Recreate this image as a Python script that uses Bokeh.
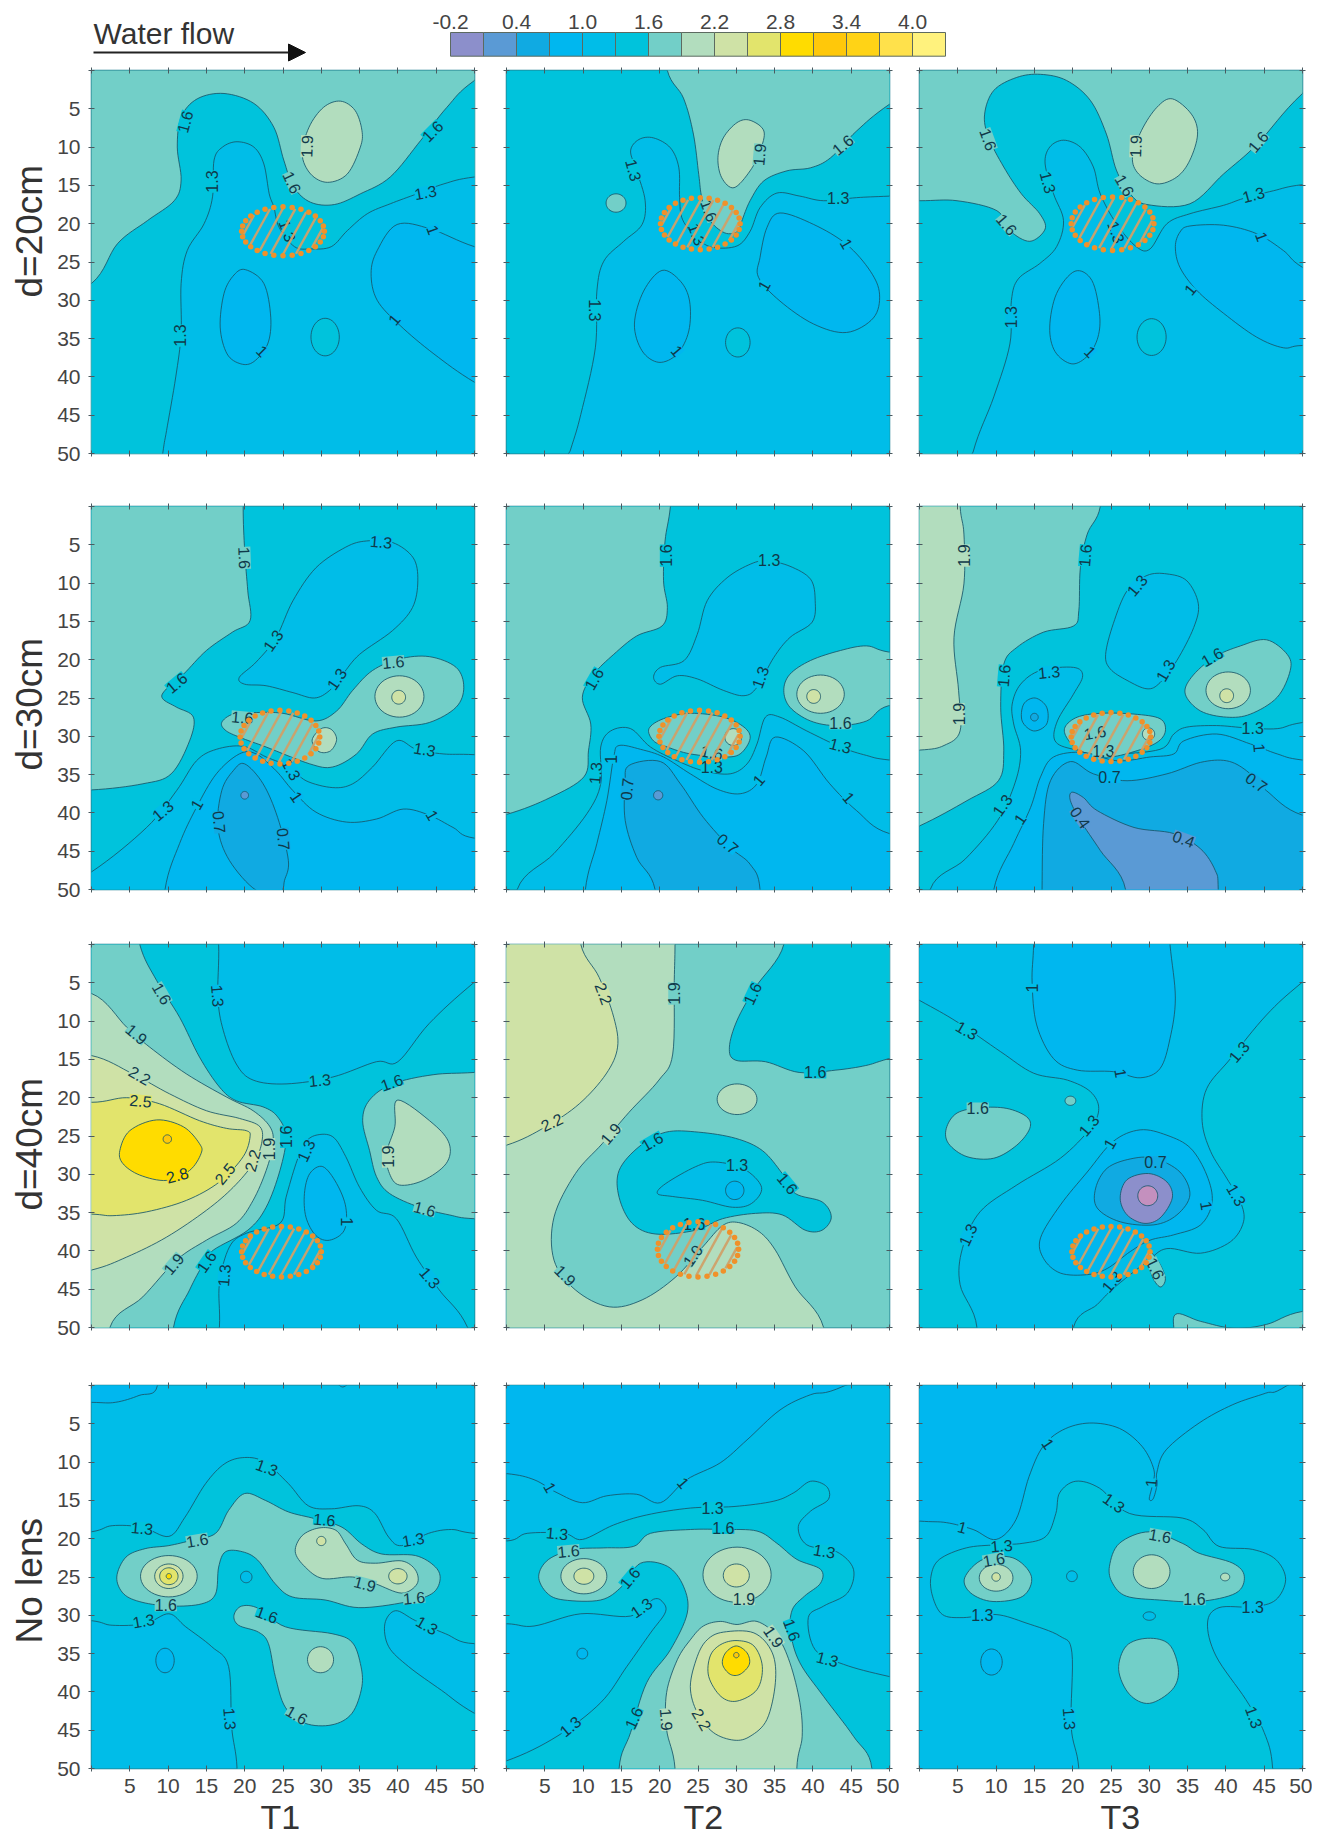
import numpy as np
from bokeh.embed import file_html
from bokeh.resources import INLINE
from bokeh.plotting import figure
from bokeh.layouts import column, row
from bokeh.models import ColumnDataSource, FixedTicker, LinearAxis, Range1d, Label, Arrow, NormalHead, Title
from bokeh.core.properties import value

# ---- colour scale (15 classes of 0.3 from -0.2) ----
SCALE_EDGES = [-0.2, 0.1, 0.4, 0.7, 1.0, 1.3, 1.6, 1.9, 2.2, 2.5, 2.8, 3.1, 3.4, 3.7, 4.0, 4.3]
SCALE_COLORS = ["#8C8FCB", "#5A9AD5", "#10AAE2", "#00B7EF", "#00BDE8", "#00C3DC", "#72CFC8", "#B2DDBE",
                "#CFE2A6", "#E2E46C", "#FFDC00", "#FFC80A", "#FFD316", "#FFE14B", "#FFF27D", "#C490BE"]
SCALE_LABELS = ["-0.2", "0.4", "1.0", "1.6", "2.2", "2.8", "3.4", "4.0"]
SCALE_LABEL_VALUES = [-0.2, 0.4, 1.0, 1.6, 2.2, 2.8, 3.4, 4.0]
ROW_NAMES = ["d=20cm", "d=30cm", "d=40cm", "No lens"]
COL_NAMES = ["T1", "T2", "T3"]

# ---- contour regions: (class index, outline of (column, depth)) or (class, (cx, cy, rx, ry)) ----
D20_T1 = [
 (6, (25, 25, 80, 80)),
 (5, [(0,27.8),(3.4,22.6),(7.3,19.6),(10.8,17),(11.7,14.3),(11.2,10),(11.7,6.1),(13.8,3.7),(17.3,3),(21.2,4.3),(23.8,7.4),(25.1,11.7),(26.4,15.2),(28.6,17.2),(31.7,17.5),(35.1,16.1),(39,13.9),(43,9.1),(46.4,4.8),(50,1.3),(60,-5),(60,60),(-8,60),(-8,32)]),
 (4, [(9.3,50),(9.8,47),(11,40),(11.7,34.3),(11.7,27.8),(12.5,23.5),(14.7,20),(15.8,16.5),(16,11.7),(17.1,10),(19,9.3),(21.2,10),(22.5,12.2),(23.2,16.1),(23.8,17.8),(24.5,20.5),(26.5,23),(28.6,23.3),(31.3,23),(33.4,20.9),(36,18.7),(39,17.4),(42.5,16.1),(46,14.8),(50,13.9),(60,13),(60,60),(8,60)]),
 (3, [(20.1,26),(22.5,27.8),(23.4,32.2),(23,35.7),(21.2,38),(19.5,38.3),(17.7,37),(16.8,33.5),(17.3,29.1),(18.6,26.7)]),
 (3, [(39.9,20.1),(44.3,20.7),(50,23),(58,25),(58,45),(50,40.7),(44.7,37),(40.3,33.3),(37.3,30),(36.5,26.5),(37.3,23.5)]),
 (5, (30.5, 34.8, 1.85, 2.45)),
 (7, [(32.5,4),(34.4,5.2),(35.3,7.8),(35.1,10),(33.4,13.5),(30.8,14.6),(28.6,13.5),(27.5,10.9),(28.4,7.4),(30.3,4.8)]),
]
D20_T2 = [
 (5, (25, 25, 80, 80)),
 (6, [(21,0),(23.1,3.6),(24.4,8.3),(25.1,13.6),(25.5,16.6),(26.5,19.5),(28.5,21.2),(30.2,21),(30.7,19.7),(31.8,17),(33.6,14.4),(36.6,13.1),(39.7,12.7),(42.3,11.4),(45.7,7.9),(50,4.4),(60,-2),(60,-8),(20,-8)]),
 (4, [(8.3,49.7),(9.7,44.9),(11.6,36.2),(11.8,28.8),(12.7,24.9),(15.3,22.3),(17.7,20.1),(18.1,17),(17,13.1),(16.2,10.5),(17.3,9),(19.2,8.8),(21.4,10.1),(22.5,12.7),(22.6,16.6),(23,19.5),(25,22),(27,23.1),(30.1,22.9),(31.8,21),(33.1,17.9),(35.3,16),(38.3,16.4),(41.4,17),(45.7,16.6),(50,16.4),(60,16),(60,60),(5,60)]),
 (6, (14.3, 17.3, 1.3, 1.2)),
 (7, [(31.8,6.5),(33.6,7.9),(33.1,10.5),(31.8,13.1),(29.7,15.3),(28.1,14),(27.6,11.4),(28.3,8.8),(30.1,6.8)]),
 (3, [(20.3,26.1),(22.7,27.5),(23.9,30.1),(23.8,34),(22.3,37),(19.9,38.1),(17.7,36.6),(16.7,33.1),(17.9,28.8)]),
 (3, [(35.7,18.6),(40.1,20.1),(44.4,22.7),(47.5,26.2),(48.7,29.2),(47.9,32.3),(44.4,34.2),(40.1,33.1),(35.7,30.1),(32.9,27),(33.1,24.4),(34,20.5)]),
 (5, (30.2, 35.5, 1.6, 1.9)),
]
D20_T3 = [
 (6, (25, 25, 80, 80)),
 (5, [(0,17),(4.9,17),(10.1,18.3),(11.8,20.9),(14.4,22.3),(16.4,20.7),(15.7,18.7),(13.3,16.1),(11,12.6),(9,8.7),(8.5,5.7),(9.7,2.6),(12.7,0.9),(15.8,0.5),(19.2,1.3),(22.3,3.9),(24.4,8.3),(25.7,13),(27.5,16.1),(29.7,17.5),(35.3,17.4),(39.7,13.5),(44.1,9.6),(50,3),(60,-5),(60,60),(-8,60),(-8,17)]),
 (4, [(7,49.8),(9.7,42.6),(11.8,35.7),(12,30),(12.9,27.2),(15.7,25.2),(17.9,23),(18.8,19.6),(17.5,16.1),(16.4,12.2),(17,10),(18.8,9.1),(21,10),(22.7,12.6),(23.6,16.1),(25.7,20),(28.3,23),(30.1,23.3),(32.3,20),(35.3,18.7),(39.7,17.6),(42.3,16.7),(46.2,15.7),(50,14.9),(60,14),(60,60),(5,60)]),
 (3, [(20.3,26.2),(22.5,27.4),(23.5,31.7),(23.3,34.8),(22,37.2),(19.9,38.3),(17.7,36.7),(17,33.5),(17.9,29.1)]),
 (3, [(35.3,20.3),(39.7,20.2),(44,21.3),(47.5,23.5),(50,25.7),(58,30),(58,36),(50,35.9),(47.5,36.2),(44,34.8),(39.7,31.7),(36.2,28.7),(34,25.7),(33.4,23),(34,21.1)]),
 (5, (30.3, 34.8, 1.9, 2.4)),
 (7, [(33,3.7),(35.5,5.7),(36.3,8.3),(35.3,11.7),(33.6,13.9),(31,14.8),(28.6,13.5),(27.8,11.3),(29,7.8),(31,4.8)]),
]
D30_T1 = [
 (5, (25, 25, 80, 80)),
 (6, [(19.8,0),(20,5.8),(20.4,11),(20.7,14.9),(18.4,16.4),(15,18.8),(12,21.9),(9.6,24),(9.3,25.1),(11.1,26.2),(13.3,27.5),(12.8,30.6),(10.4,34.9),(6.7,36.2),(0,37),(-8,37),(-8,-8),(20,-8)]),
 (4, [(35.9,4.5),(39.3,4.7),(42,6.7),(42.6,9.7),(41.9,13.2),(39.3,16.2),(35,19.3),(32.8,21.9),(31.1,24),(29.1,25),(26.3,24.3),(22.8,23.4),(20,23.2),(19.3,22.3),(21.5,20.3),(24.1,17.1),(26.3,12.3),(29.3,8),(33.2,5.3)]),
 (4, [(0,47.7),(7.2,41.9),(11.1,37.1),(13.7,33.2),(16.3,31.7),(19.8,31.3),(22.8,32.7),(25.9,34),(28,35.8),(31.5,36.7),(34.1,36.2),(36.7,34),(39.8,30.6),(42.4,31.7),(45.9,32.3),(50,32.4),(60,33),(60,60),(-8,60),(-8,52)]),
 (6, [(17,28.2),(18.5,27.1),(21.5,26.9),(25,27),(29.3,28),(32,26.7),(34.1,24),(36.7,21.4),(40.2,19.9),(44.1,19.6),(47.6,21),(48.6,23.6),(47.6,26.2),(44.1,28.2),(39.8,28.8),(36.7,29.7),(34.6,32.3),(31.5,34),(28.5,33.6),(22.8,31.4),(19.8,30.3),(17.6,29.3)]),
 (3, [(9.6,50),(11.5,44),(13.7,39.3),(16.3,34.9),(19.3,32.3),(21.5,32.3),(24.1,34.5),(26.3,37.1),(29.3,39.9),(33.3,41.2),(37.2,40.8),(40.7,39.5),(44.1,40.3),(47.2,41.9),(50,43.3),(60,44),(60,60),(9,60)]),
 (2, [(20,33.6),(22.4,36.2),(24.3,40.6),(25.7,46.2),(25.2,48.8),(24.6,50.3),(21.5,50.1),(18,46.2),(16.5,41.9),(17,37.1),(18.5,34.5)]),
 (1, (20, 37.7, 0.5, 0.5)),
 (7, (40.2, 24.8, 3.2, 2.7)),
 (8, (40.1, 24.9, 0.9, 0.9)),
 (7, [(30,29),(31.3,29.1),(32,30.4),(31.2,31.9),(29.7,32),(28.8,30.5)]),
]
D30_T2 = [
 (5, (25, 25, 80, 80)),
 (6, [(21.4,0),(20.7,4.5),(20.5,9.7),(21,13.2),(20.3,15.6),(17,16.9),(14,19.3),(11.4,21.9),(9.9,24.9),(11,28.4),(10.7,31.9),(10.1,35.3),(5.7,38),(0,40.2),(-8,42),(-8,-8),(22,-8)]),
 (4, [(34,7.1),(37,7.8),(39.7,9.5),(40.3,12.3),(39.9,15.1),(37,17.1),(34.9,19.7),(32.7,23.6),(31,24.7),(28.3,24),(24.9,22.5),(22.3,22.1),(20.1,23.2),(19.2,22.3),(20.1,21),(23.2,20.1),(24.9,16.7),(26.2,12.3),(28.8,9.3),(31.9,7.5)]),
 (6, [(49.9,19),(47,18.2),(43.6,18.8),(39.7,20.1),(37,21.9),(36.2,24),(37,26.2),(39.7,28),(43.1,28.6),(47,28),(49.9,26),(58,25),(58,20)]),
 (7, (41, 24.5, 3.1, 2.5)),
 (8, (40.1, 24.8, 0.9, 0.9)),
 (4, [(1.4,50),(6.2,45.3),(10.5,40.1),(12.3,36.2),(12.3,31.4),(13.6,29.3),(16.2,29),(18.8,31.4),(22.3,33.2),(25.7,34.5),(29.2,34.9),(31.4,33.6),(32.7,31),(33.8,27.5),(35.7,27.5),(39.2,29.3),(43.6,31.4),(47,32.5),(50,33.1),(60,34),(60,60),(1,60)]),
 (6, [(18.6,29),(20.5,27.7),(24,27),(28.3,27.5),(31,28.8),(31.8,30.3),(30.5,32.3),(28.3,32.7),(24,32.3),(21,31.4),(19.2,30.6)]),
 (7, (29.6, 30.1, 1.1, 1.1)),
 (3, [(10.3,50),(11.8,44),(13.1,38.4),(14,32.7),(14.7,31.2),(17.5,31.7),(20.5,32.7),(24,34.9),(27.5,36.9),(30.5,37.5),(32.7,36.2),(33.9,32.7),(35.1,30.1),(38.8,31.9),(42.2,36.2),(45.7,39.7),(50,42.7),(60,44),(60,60),(10,60)]),
 (2, [(19.4,50),(17,45.8),(15.5,41),(15.5,36.2),(16,33.8),(20.1,33.3),(22.7,36.2),(25.7,40.6),(29.2,44.5),(31.8,46.7),(33.1,50),(33,60),(20,60)]),
 (1, (19.8, 37.7, 0.6, 0.6)),
]
D30_T3 = [
 (5, (25, 25, 80, 80)),
 (6, [(23.6,0),(21.9,3.6),(21,8),(20.8,13.6),(20.1,15.6),(16.2,16.4),(12.7,18.4),(11,20.6),(10.6,26.2),(11,31.9),(10.3,35.8),(6.2,38.4),(0,41.7),(-8,45),(-8,-8),(24,-8)]),
 (7, [(5.3,0),(5.8,3.6),(5.8,10.1),(4.5,17.1),(5.1,24),(5.3,29.3),(3.2,31.2),(0,31.8),(-8,32),(-8,-8),(5,-8)]),
 (4, [(32.3,8.8),(34.9,9.7),(36.4,12.7),(35.8,15.8),(33.6,20.1),(31.4,23),(29.7,23.8),(27.1,22.7),(24.9,21.2),(24.3,19.3),(25.3,15.3),(27.1,11),(29.7,9)]),
 (4, [(1.4,50),(6,46),(10.2,41),(12.5,36),(13.2,31.9),(12.3,28.4),(12.1,25.8),(13.2,23.2),(15.8,21.4),(20.1,21),(21.3,22.1),(20.1,24.5),(18,28),(17.7,30.6),(20.1,31.7),(25,32.3),(31.4,31.7),(33.2,29.7),(34.9,28.8),(38.8,28.6),(42.7,28.9),(46.7,29),(50,28.2),(60,27),(60,60),(1,60)]),
 (6, [(19,28.8),(20.6,27.5),(23.6,27),(28,27.1),(31.4,27.7),(32.1,29.3),(31,30.8),(28,32),(24.5,32.7),(21,31.9),(19.3,30.3)]),
 (7, (29.9, 29.7, 0.8, 0.8)),
 (3, [(9.7,50),(12.3,44),(14.5,39.3),(15.8,35.3),(17.5,32.7),(21.4,32.1),(25.8,33.2),(30.1,32.7),(33.2,32.3),(34.5,30.6),(38.8,29.7),(43.2,31),(46.7,32.3),(50,33.1),(60,34),(60,60),(9,60)]),
 (2, [(16,50),(16.2,41.4),(17.1,35.8),(19.7,33.3),(22.7,34.9),(27.1,35.8),(32.3,34.9),(36.7,33.4),(40.1,33.2),(42.7,34.5),(45.3,37.1),(50,40.3),(60,42),(60,60),(16,60)]),
 (1, [(19.9,37.3),(21.4,38),(23.2,39.7),(28,41.9),(33.2,42.7),(36.7,44.7),(38.6,47.5),(39,50),(39,60),(26.5,60),(26.9,50),(23.6,44.9),(21,41),(19.7,38.4)]),
 (3, [(15.1,25),(16.6,26.2),(16.6,28.4),(14.9,29.3),(13.4,28),(13.6,25.8)]),
 (2, (15, 27.5, 0.5, 0.5)),
 (6, [(45.3,17.4),(48,19.3),(48.4,21.4),(46.7,24.9),(43.2,27.1),(40.1,27.5),(36.7,26.7),(34.7,24.5),(35.5,22.3),(38.4,19.7),(41.9,18.2)]),
 (7, (40.3, 24, 2.9, 2.4)),
 (8, (40.1, 24.7, 0.9, 0.9)),
]
D40_T1 = [
 (5, (25, 25, 80, 80)),
 (6, [(6.3,0),(8.5,4.7),(11.5,9.5),(14.1,14.7),(16.7,18.6),(18.9,20.4),(22.4,21.2),(24.3,22.5),(25.4,25.1),(24.6,29.5),(22.8,34.3),(20.4,37.3),(15.9,39.9),(14.6,41.7),(12.8,45.1),(10.7,50),(10,60),(-8,60),(-8,-8),(5,-8)]),
 (7, [(0,6.4),(4.6,10.8),(7.6,13.4),(12.4,16.9),(17.6,19.9),(21.1,21.7),(23.3,23.8),(23.7,26),(22.8,29.5),(21.1,33.4),(18.9,36.4),(15,38.6),(11.1,41.2),(6.7,46),(2.4,50),(2,60),(-8,60),(-8,6)]),
 (8, [(0,14.5),(5.4,16.9),(10.2,19.5),(15,21.7),(19.3,22.7),(22,23.8),(22.2,26),(21.1,28.6),(18.5,31.7),(15,34.7),(9.8,38.2),(4.6,40.8),(0,42.5),(-8,44),(-8,14)]),
 (9, [(0,20.6),(4.6,20),(8.9,20.8),(14.1,23),(17.6,24),(20.2,24.3),(20.7,25.1),(19.8,27.7),(16.7,31),(12.4,33.4),(7.2,34.9),(2.8,35.4),(0,35.2),(-8,35),(-8,20)]),
 (10, [(8.5,22.9),(12,23.8),(14.1,26),(14.3,27.3),(12.8,29.5),(9.8,30.8),(6.3,30.1),(4.1,28.6),(3.7,26.9),(5,24.3)]),
 (11, (9.9, 25.4, 0.55, 0.55)),
 (4, [(16.6,0),(16.5,6.9),(17.2,11.2),(18.9,15.6),(21.1,17.7),(25.4,18.2),(31.5,17.3),(37.2,15.3),(40,15.3),(44.1,10.3),(50,4.9),(60,-3),(60,-8),(16,-8)]),
 (6, [(50,16.7),(44.6,17),(39.3,18.2),(36.3,20.3),(35.4,23),(36.3,26.9),(37.2,30.3),(38.9,32.5),(42.8,34.3),(46.7,35.3),(50,35.8),(60,36),(60,16)]),
 (7, [(40,20.3),(44.6,23.4),(46.7,26),(46.3,28.6),(43.3,30.8),(40.2,31.4),(38.9,29.9),(38.5,27.3),(39.6,23.8)]),
 (4, [(16.7,50),(16.7,44.3),(18,39.5),(20.2,37.7),(24.6,36.4),(25.4,33),(26.7,28.6),(27.8,26),(29.3,24.9),(31.5,25.1),(33.2,27.7),(35,31.7),(37.2,34.7),(39.8,35.8),(42.4,40.8),(45.4,45.1),(49.1,50),(52,60),(16,60)]),
 (3, [(30.2,29),(32,31.2),(33.2,34.3),(33,37.3),(31.1,38.6),(29.3,38),(28,35.6),(27.8,32.5),(28.5,29.9)]),
]
D40_T2 = [
 (6, (25, 25, 80, 80)),
 (7, [(22,0),(21.9,4.7),(21.7,14.3),(19.9,17.7),(16,21.9),(12.5,26),(9,29.9),(6.2,35.6),(6.2,41.2),(9,45.1),(13.4,47.3),(17.7,46.4),(22.1,43.4),(25.6,39.5),(28.2,36.7),(30.3,36.3),(33,37.5),(35.1,39.9),(37.7,44.7),(41.4,50),(42,60),(-8,60),(-8,-8),(22,-8)]),
 (8, [(9.7,0),(12.1,4.3),(14,9.5),(14.5,13.4),(13,16.9),(9.5,20.8),(5.1,23.8),(0,26.2),(-8,28),(-8,-8),(9,-8)]),
 (7, (30.1, 20.2, 2.6, 2)),
 (5, [(36.2,0),(32.5,5.6),(30.1,9.9),(29.1,13.4),(29.9,15.1),(33.8,15.3),(38.2,16.7),(43,16.4),(46.9,15.8),(49.9,14.9),(60,12),(60,-8),(36,-8)]),
 (5, [(14.7,33),(14.7,29.5),(17.3,26.4),(20.8,24.5),(25.1,24.5),(29.9,25.3),(33.4,26.9),(36,29.9),(37.7,32.5),(41.2,33.6),(42.4,35.6),(41.2,37.3),(39,37.3),(36,35.3),(32.5,35.1),(28.2,35.8),(24.7,37.3),(19.5,37.8),(16.4,36.4)]),
 (4, [(19.7,32.5),(20.8,31.2),(24.7,29),(27.3,28.4),(31,29.3),(33.3,31.7),(32,33.8),(29.5,34.3),(25.6,33.4),(21.7,32.9)]),
 (3, (29.8, 32.1, 1.2, 1.2)),
]
D40_T3 = [
 (5, (25, 25, 80, 80)),
 (4, [(0,7.3),(4.9,10.1),(10.6,14),(14.9,16.8),(19.3,17.7),(22.3,19.2),(23.4,21.4),(22.3,24),(18.4,27.9),(12.7,31.4),(7.9,34.9),(5.6,39.7),(5.3,44.4),(7.5,50),(7,60),(20,60),(20.1,50),(23.2,47),(25.3,44.9),(29.7,41.4),(32.3,39.7),(36.7,40.3),(40.6,38.8),(42.3,36.2),(41.9,33.6),(40.1,30.5),(38,27),(36.9,23.1),(37.5,18.8),(40.6,14.9),(45.3,9.2),(50,4.9),(60,-3),(60,-8),(-8,-8),(-8,3)]),
 (3, [(14.9,0),(14.7,4.9),(15.3,10.5),(17.5,14.9),(20.6,16.4),(25.3,16.6),(28.8,17.4),(31.4,16.2),(32.7,12.3),(33.4,7),(32.7,0),(32,-8),(15,-8)]),
 (3, [(28.8,24.2),(32.3,24.9),(35.4,26.6),(37.5,30.1),(38.2,33.6),(36.7,36.6),(33.2,37.9),(30.1,38.6),(27.5,40.1),(24.5,42.3),(21.9,43.1),(18.4,42.9),(16.2,41),(15.8,38.3),(18.4,34),(21.9,29.7),(25.3,25.7)]),
 (2, [(27.5,28),(30.6,27.9),(34,29.7),(35.3,32.7),(33.6,35.3),(30.6,36.6),(26.2,36.2),(23.2,34.4),(23,31.8),(24.5,29.2)]),
 (0, [(29.9,29.9),(32.3,31),(33,33.1),(31.4,35.7),(29.3,36.4),(27.1,35.3),(26.2,33.1),(27.1,30.7)]),
 (15, (29.8, 32.8, 1.3, 1.3)),
 (6, [(8,21.3),(11.4,21.4),(14,22.5),(14.4,24),(12.7,26.2),(9.7,27.9),(6.2,27.7),(3.8,26),(3.5,24),(4.9,22)]),
 (6, (19.7, 20.4, 0.7, 0.6)),
 (6, [(29.9,40.1),(31.2,41.4),(32.1,43.6),(31.4,44.7),(30.3,43.1)]),
 (6, [(33.4,48.3),(36.7,49.2),(41,50.1),(45.3,49.6),(50,47.9),(60,47),(60,60),(33,60),(33.3,52)]),
]
N_T1 = [
 (4, (25, 25, 80, 80)),
 (3, [(0,2.2),(3.1,2.2),(6.2,1.3),(8.6,0),(8,-8),(-8,-8),(-8,2)]),
 (3, [(31.7,-1),(32.8,0.2),(34,-1)]),
 (5, [(0,19.1),(2.7,18.3),(6.6,18.5),(10.1,19.7),(12.2,17.2),(14.9,12.8),(17.4,10.2),(20,9.4),(22.6,10),(25.7,12.8),(28.3,15.7),(31.3,16.1),(34.9,15.7),(37,16.7),(38.8,19.8),(40.5,20.9),(44,19.3),(47,18.8),(50,19.3),(60,20),(60,33),(50,33.7),(46.2,32.4),(42.3,30.7),(39.7,29.4),(38.3,31.1),(38.8,34.1),(41.4,36.7),(45.7,39.8),(50,42.8),(60,48),(60,60),(19,60),(19,50),(18.3,44.6),(17.9,36.7),(15.7,34.1),(12.3,31.5),(10.1,29.8),(7,31.1),(2.7,31.3),(0,30.7),(-8,30),(-8,20)]),
 (6, [(3.3,25),(4.5,22.4),(7,21.3),(10.1,20.9),(13.1,20.2),(16.2,19.3),(17.9,16.3),(20,14.1),(22.7,15),(25.7,16.5),(29.2,17.4),(32.7,18.5),(35.3,20.7),(37.9,22),(42.3,22.2),(44.9,23.7),(45.5,25.4),(44.4,27.2),(40.9,28.3),(34.9,29),(30.5,28),(26.2,27.6),(24,25.9),(21.7,22.8),(19.7,21.7),(17.5,21.7),(16.6,23.7),(16.2,27.2),(14.4,28.5),(10.5,28.8),(6.6,28.3),(4.2,27.2)]),
 (7, (10.1, 24.9, 3.7, 2.7)),
 (8, (10.1, 24.9, 1.85, 1.6)),
 (9, (10.1, 24.9, 1.2, 1.1)),
 (10, (10.1, 24.9, 0.35, 0.35)),
 (7, [(29.7,18.6),(31.9,18.9),(33.2,20.7),(34.7,22.8),(37.1,23.2),(40.5,22.9),(42.3,24.1),(42.5,25.9),(40.5,27.1),(37.1,25.9),(34.1,25),(30.2,25.2),(27.9,23.7),(26.6,21.7),(27.5,19.6)]),
 (8, (30, 20.3, 0.6, 0.6)),
 (8, (40, 24.9, 1.2, 1)),
 (6, [(19.6,28.8),(21.8,29.1),(25.3,31.5),(31.4,32.4),(34,33.5),(35.1,36.3),(35.3,39.3),(34,42.8),(31.4,44.3),(27.9,44.1),(25.3,42),(24,38),(23.1,33.7),(21.8,32.2),(19.2,31.3),(18.6,30)]),
 (7, (29.9, 35.8, 1.7, 1.7)),
 (4, (20.2, 25, 0.75, 0.75)),
 (3, (9.6, 35.9, 1.2, 1.6)),
]
N_T2 = [
 (4, (25, 25, 80, 80)),
 (3, [(0,11.5),(3.6,12.3),(6.6,14),(9.9,15.3),(13.1,14.4),(17,14.2),(20.1,15.3),(23.5,12.3),(27.9,10.1),(31.4,7.1),(35.7,3.2),(39.7,1.2),(44.2,0),(60,-8),(-8,-8),(-8,11)]),
 (5, [(0,20.3),(2.7,19.3),(7.5,19.3),(9.9,20.1),(14,18.2),(18.3,16.9),(24,16),(29.7,15.8),(34.9,15.1),(37.5,14),(39.7,12.5),(41.8,13.2),(42,14.9),(39.7,16.4),(38.1,18.4),(39.2,20.8),(43.1,21.7),(45.3,24),(44.5,27.1),(41.4,28.8),(39.4,30.3),(40.3,34.5),(44,36.4),(50,38),(60,40),(60,60),(-8,60),(-8,51),(0,49),(6.6,45.8),(12.3,41.4),(15.7,36.7),(18.8,32.3),(20.7,29.7),(20.5,28.4),(19.2,27.9),(16.2,30.1),(9.7,29.8),(3.6,31.4),(0,31.1),(-8,31),(-8,20)]),
 (6, [(4.2,24.9),(5.5,22.7),(8.9,21.4),(12.7,21.2),(16.6,21),(18.8,19.3),(24,18.8),(28.3,18.8),(32.7,19),(35.3,20.6),(37.9,22.7),(41,24),(41,25.8),(38.9,27.5),(37.3,29.3),(37.1,32.3),(38.3,36.2),(41.4,40.6),(45.3,45.8),(47.7,50),(47,60),(15,60),(14.7,50),(16.2,45.3),(18.3,38.8),(21.4,34.5),(23.6,29.7),(23.1,26.2),(21,23.6),(17.5,23.2),(15.1,26.2),(12.3,28),(7.5,28),(5.3,27.1)]),
 (7, (10.1, 24.9, 3, 2.3)),
 (8, (10.1, 24.9, 1.3, 1.05)),
 (7, (30.1, 24.7, 4.45, 3.6)),
 (8, (30, 24.8, 1.7, 1.5)),
 (7, [(25.7,31.4),(27.9,30.8),(30.1,31.2),(32.7,30.8),(35.3,32.7),(37,36.2),(38.3,41.4),(38.6,45.8),(37.9,50),(38,60),(22,60),(22,50),(20.9,44.9),(20.9,40.1),(22.3,35.8),(24,33.2)]),
 (8, [(28.3,32.2),(32.3,32.3),(34.7,34.9),(35.1,38.8),(34,43.6),(31.8,45.8),(29.7,46.3),(27,45.3),(24.9,42.7),(24,39.3),(24.9,35.4),(26.2,33.2)]),
 (9, [(30.1,33.3),(32.3,34),(33.4,36.7),(32.7,39.7),(30.1,41.2),(28,40.6),(26.4,38),(26.6,35.3),(28,33.8)]),
 (10, [(30,34),(31.4,34.9),(31.7,36.4),(30.5,37.7),(29.2,37.7),(28.2,36.4),(28.6,34.9)]),
 (11, (30, 35.2, 0.35, 0.35)),
 (3, (9.9, 35, 0.7, 0.7)),
]
N_T3 = [
 (4, (25, 25, 80, 80)),
 (3, [(0,17.7),(3.5,17.9),(7,18.8),(10,20.1),(12.6,17.5),(14.3,11.9),(16.1,8),(18.7,5.8),(22.2,4.9),(26.1,5.6),(29.1,8),(30.6,11),(30.4,13),(30,14.8),(30.5,14.8),(31,13),(31,11.3),(32.2,8.4),(36.5,4.9),(40.9,2.5),(45.2,1),(48,0),(60,-8),(-8,-8),(-8,17)]),
 (5, [(1.5,24.9),(2.6,22.7),(6.1,21.2),(10,20.8),(13.5,20.6),(16.5,19.7),(17.8,16.7),(18.3,14),(20.4,12.5),(23.5,13.4),(27.4,16.7),(34.3,17.3),(37,18.8),(39.1,21),(43.5,21.4),(46.5,22.7),(47.8,25.3),(46.5,28),(43.5,28.9),(39.1,29),(37.6,31),(38.7,35.3),(42.6,41),(45,45.3),(46.1,50),(46,60),(21,60),(20.8,50),(19.8,44.5),(19.9,34.9),(18.3,32.7),(13.9,31),(10,29.9),(5.7,30.3),(3,29.9),(1.7,27.5)]),
 (6, [(5.9,25.1),(8.3,22.7),(12.2,22.5),(14.6,24.9),(13.5,27.5),(9.6,28.2),(6.7,27.1)]),
 (7, (10, 25.1, 2.2, 1.75)),
 (8, (10, 25, 0.55, 0.55)),
 (6, [(24.8,23.6),(26.1,20.6),(30,19.1),(34.3,20.6),(36.5,21.9),(40.9,23.2),(42.4,24.9),(41.3,27.1),(36.5,28.2),(31.3,28),(27,27.5),(25.2,25.8)]),
 (7, (30.3, 24.3, 2.4, 2.2)),
 (7, (39.9, 25, 0.6, 0.5)),
 (6, [(29.8,33),(32.6,33.8),(33.8,37.1),(33,39.7),(30,41.5),(27.4,40.3),(26,37.1),(27,34)]),
 (4, (19.9, 24.9, 0.7, 0.7)),
 (4, (30, 30.1, 0.8, 0.55)),
 (3, (9.4, 36.1, 1.4, 1.7)),
]

# ---- isoline labels: (text, column, depth, angle in degrees) ----
T_D20_T1 = [("1.6",12.2,6.7,75),("1.9",28.1,9.9,88),("1.3",15.7,14.5,90),("1.6",26.2,14.6,-65),("1.6",44.5,7.9,45),("1.3",43.6,15.9,10),("1",44.6,20.8,-70),("1",39.5,32.5,50),("1.3",11.6,34.6,90),("1",22.3,36.6,-45),("1.3",25.6,20.9,-70)]
T_D20_T2 = [("1.3",16.6,13,-75),("1.9",33,11,85),("1.6",43.9,9.7,40),("1.3",43.3,16.7,0),("1",44.4,22.6,-60),("1",33.6,28.1,60),("1.3",11.6,31.3,-90),("1",22.3,36.6,-50),("1.6",26.5,18.3,-70),("1.3",24.9,21.4,-70)]
T_D20_T3 = [("1.6",9,9,-70),("1.9",28.2,9.9,88),("1.3",16.8,14.6,-75),("1.6",26.8,15,-60),("1.6",44.2,9.3,50),("1.3",43.6,16.2,15),("1.6",11.4,20.1,-50),("1",44.7,21.7,-70),("1",35.3,28.6,50),("1.3",12,32.2,90),("1",22.3,36.7,-45),("1.3",25.7,21.1,-70)]
T_D30_T1 = [("1.6",20,6.7,-88),("1.3",37.8,4.6,-5),("1.3",23.7,17.5,55),("1.3",32,22.5,55),("1.6",11.1,23,40),("1.6",39.4,20.3,5),("1.6",19.7,27.5,-5),("1.3",43.5,31.7,-10),("1.3",9.3,39.7,40),("1",13.7,38.9,60),("1",26.8,37.9,-55),("1",44.5,40.3,-60),("0.7",16.7,41.2,-85),("0.7",25.1,43.4,-85),("1.3",26.1,34.3,-60)]
T_D30_T2 = [("1.6",20.8,6.4,90),("1.3",34.3,7,0),("1.6",11.4,22.5,60),("1.3",33.1,22.3,70),("1.6",43.6,28.3,0),("1.3",43.6,31.2,-15),("1.3",11.6,34.8,85),("1",13.6,33,90),("0.7",15.7,36.9,85),("1",32.9,35.7,50),("1",44.7,38,-50),("0.7",28.9,44,-40),("1.3",26.8,34,0),("1.6",26.8,32.1,-10)]
T_D30_T3 = [("1.9",5.8,6.4,90),("1.9",5.1,27.1,90),("1.6",21.6,6.4,85),("1.6",11,22.1,85),("1.3",28.4,10.3,50),("1.3",16.9,21.6,5),("1.3",32.1,21.4,60),("1.6",38.2,19.6,30),("1.3",43.5,28.9,0),("1",44.4,31.5,-85),("0.7",24.8,35.3,0),("0.7",44,36,-35),("1.3",10.8,39,55),("1",13.1,40.8,55),("0.4",21,40.6,-55),("0.4",34.5,43.4,-20),("1.6",22.9,29.5,10),("1.3",24,31.9,0)]
T_D40_T1 = [("1.6",9.2,6.4,-60),("1.3",16.5,6.7,-85),("1.9",5.9,11.7,-40),("2.2",6.3,17.1,-30),("2.5",6.4,20.4,-5),("1.3",29.8,17.7,5),("1.6",39.2,18,20),("1.6",25.4,25.1,90),("1.9",23.2,26.7,90),("2.2",21,28.2,75),("2.5",17.4,29.9,50),("2.8",11.2,30.1,15),("1.3",28,26.9,65),("1.9",38.7,27.7,90),("1.6",43.5,34.5,-15),("1",33.3,36.2,-90),("1.9",10.7,41.7,50),("1.6",15,41.4,55),("1.3",17.3,43.2,85),("1.3",44.2,43.5,-50)]
T_D40_T2 = [("2.2",12.7,6.4,-70),("1.9",21.9,6.4,90),("1.6",32.1,6.4,65),("1.6",40.3,16.7,0),("2.2",5.9,23.2,25),("1.9",13.6,24.7,50),("1.6",19,25.7,30),("1.3",30.1,28.8,0),("1.6",36.7,31.2,-50),("1.9",7.7,43.2,-45),("1.0",24.3,40.6,55),("1.6",24.5,36.5,0)]
T_D40_T3 = [("1",14.7,5.7,90),("1.3",6.2,11.2,-30),("1.3",41.7,14,50),("1",26.3,16.8,-80),("1.6",7.6,21.4,0),("1.3",22.1,23.6,50),("1",24.8,26,60),("0.7",30.8,28.4,0),("1",37.5,34.1,-80),("1.3",41.4,32.7,-60),("1.3",6.3,37.9,65),("1.6",30.8,42.3,-65),("1.3",25.1,44,50)]
T_N_T1 = [("1.3",6.6,18.6,-5),("1.3",22.9,10.7,-20),("1.6",13.8,20.2,10),("1.6",30.4,17.5,-5),("1.3",42,20.1,10),("1.9",35.7,25.9,-15),("1.6",9.7,28.7,0),("1.6",42.1,27.7,5),("1.3",6.8,30.7,10),("1.6",22.9,29.9,-20),("1.3",43.8,31.3,-30),("1.6",26.8,43,-30),("1.3",18.1,43.5,-85)]
T_N_T2 = [("1",5.7,13.3,-60),("1",23.1,12.7,-50),("1.3",26.9,16,0),("1.6",28.3,18.6,0),("1.3",6.6,19.3,-5),("1.6",8.1,21.6,5),("1.3",41.5,21.6,-10),("1.6",16.1,25.1,50),("1.3",17.6,29,35),("1.9",31,27.9,0),("1.6",37.3,31.9,-70),("1.9",34.9,32.8,-55),("1.3",41.9,35.7,-15),("1.6",16.6,43.4,65),("1.9",20.9,43.6,-85),("2.2",25.5,43.6,-60),("1.3",8.3,44.5,40)]
T_N_T3 = [("1",16.8,7.6,-55),("1",30.2,12.7,85),("1.3",25.4,15.3,-35),("1",5.6,18.5,-15),("1.3",10.7,20.9,5),("1.6",9.7,22.7,10),("1.6",31.4,19.6,-10),("1.6",35.9,27.9,0),("1.3",43.5,28.9,0),("1.3",8.2,30,0),("1.3",19.6,43.5,-85),("1.3",43.7,43.3,-70)]

# ---- lens outlines (centre column, centre depth, half width, half height); no lens in the last row ----
LENSES = [[(25,21,5.4,3.2),(25.3,20,5.2,3.4),(25.2,20,5.4,3.5)],
          [(24.6,30.1,5.2,3.5),(25.2,30,5.3,3.4),(25,30.1,5.2,3.2)],
          [(24.8,40.1,5.2,3.3),(25,39.8,5.3,3.6),(25,40.1,5.1,3.3)],
          [None,None,None]]
REGIONS = [[D20_T1,D20_T2,D20_T3],[D30_T1,D30_T2,D30_T3],[D40_T1,D40_T2,D40_T3],[N_T1,N_T2,N_T3]]
TEXTS = [[T_D20_T1,T_D20_T2,T_D20_T3],[T_D30_T1,T_D30_T2,T_D30_T3],[T_D40_T1,T_D40_T2,T_D40_T3],[T_N_T1,T_N_T2,T_N_T3]]

FONT = "Liberation Sans"
LINE = "#17566A"
TICK = "#4A5A60"
FRAME = 383
LEFT = [91, 22, 20]
RIGHT = [10, 10, 10]
TOP = [4, 4, 4, 4]
BOTTOM = [49, 51, 54, 76]
TICKS = list(range(0, 51, 5))
ROW_LABEL_OFFSET = [156, 119, 117, 125]
COL_LABEL_OFFSET = [169, 177, 181]


def smooth(points, n=8):
    """Closed Catmull-Rom outline through the read vertices."""
    P = np.array(points, dtype=float)
    m = len(P)
    out = []
    for i in range(m):
        p0, p1, p2, p3 = P[(i-1) % m], P[i], P[(i+1) % m], P[(i+2) % m]
        for t in np.linspace(0, 1, n, endpoint=False):
            out.append(0.5*((2*p1) + (-p0+p2)*t + (2*p0-5*p1+4*p2-p3)*t*t + (-p0+3*p1-3*p2+p3)*t*t*t))
    return np.array(out)


def outline(shape):
    if isinstance(shape, tuple):
        cx, cy, rx, ry = shape
        a = np.linspace(0, 2*np.pi, 48, endpoint=False)
        return np.column_stack([cx+rx*np.cos(a), cy+ry*np.sin(a)])
    return smooth(shape)


def inside(pt, poly):
    x, y = pt
    xs, ys = poly[:, 0], poly[:, 1]
    xn, yn = np.roll(xs, -1), np.roll(ys, -1)
    with np.errstate(divide="ignore", invalid="ignore"):
        cross = ((ys > y) != (yn > y)) & (x < (xn-xs)*(y-ys)/(yn-ys)+xs)
    return bool(cross.sum() % 2)


def draw_panel(r, c):
    regions = REGIONS[r][c]
    w = LEFT[c] + FRAME + RIGHT[c]
    h = TOP[r] + FRAME + BOTTOM[r]
    p = figure(width=w, height=h, output_backend="svg", toolbar_location=None,
               x_range=Range1d(0, 50), y_range=Range1d(50, 0),
               min_border_left=LEFT[c], min_border_right=RIGHT[c],
               min_border_top=TOP[r], min_border_bottom=BOTTOM[r],
               x_axis_location="below", y_axis_location="left")
    p.grid.visible = False
    p.outline_line_color = "#1F7E8E"
    p.outline_line_width = 1.5

    polys = [outline(s) for _, s in regions]
    cols = [SCALE_COLORS[l] for l, _ in regions]
    p.patches(xs=[list(q[:, 0]) for q in polys], ys=[list(q[:, 1]) for q in polys],
              fill_color=cols, line_color=LINE, line_width=1, line_alpha=0.85)

    rows = TEXTS[r][c]
    bg = []
    for _, x, y, _a in rows:
        col = cols[0]
        for q, cc in zip(polys, cols):
            if inside((x, y), q):
                col = cc
        bg.append(col)
    src = ColumnDataSource(dict(t=[a[0] for a in rows], x=[a[1] for a in rows], y=[a[2] for a in rows],
                                a=[a[3] for a in rows], bg=bg))
    p.text("x", "y", text="t", angle="a", angle_units="deg", source=src, text_font=value(FONT),
           text_font_size="16px", text_color="#10394A", text_align="center", text_baseline="middle",
           background_fill_color="bg")

    lens = LENSES[r][c]
    if lens:
        cx, cy, rx, ry = lens
        sx, sy = [], []
        tilt = -0.55
        for k in np.arange(-4, 5):
            off = k*1.65
            A = (tilt/rx)**2 + (1/ry)**2
            B = 2*(off/rx)*(tilt/rx)
            C = (off/rx)**2 - 0.93
            D = B*B-4*A*C
            if D <= 0:
                continue
            v1, v2 = (-B-np.sqrt(D))/(2*A), (-B+np.sqrt(D))/(2*A)
            sx.append([cx+off+tilt*v1, cx+off+tilt*v2])
            sy.append([cy+v1, cy+v2])
        p.multi_line(sx, sy, line_color="#D0A068", line_width=2.4, line_alpha=0.95)
        a = np.linspace(0, 2*np.pi, 28, endpoint=False)
        p.scatter(cx+rx*np.cos(a), cy+ry*np.sin(a), size=5.5, marker="circle", fill_color="#F0912A",
                  line_color=None)

    # all four sides carry ticks; labels only on the outer left and bottom
    def style(ax, labels):
        ax.ticker = FixedTicker(ticks=TICKS)
        ax.axis_line_color = None
        ax.major_tick_line_color = TICK
        ax.major_tick_in = 3
        ax.major_tick_out = 3
        ax.minor_tick_line_color = None
        ax.major_label_overrides = {t: (str(t) if (labels and t > 0) else "") for t in TICKS}
        ax.major_label_text_font = FONT
        ax.major_label_text_font_size = "21px"
        ax.major_label_text_color = "#444444"

    left = p.left[0]
    below = p.below[0]
    style(left, c == 0)
    style(below, r == 3)
    left.major_label_standoff = 8
    below.major_label_standoff = 7
    for side in ("above", "right"):
        ax = LinearAxis()
        style(ax, False)
        p.add_layout(ax, side)
    if c == 0:
        p.add_layout(Title(text=ROW_NAMES[r], align="left", offset=ROW_LABEL_OFFSET[r], standoff=10,
                           text_font=FONT, text_font_size="37px", text_font_style="normal",
                           text_color="#333333"), "left")
    if r == 3:
        p.add_layout(Title(text=COL_NAMES[c], align="left", offset=COL_LABEL_OFFSET[c], standoff=0,
                           text_font=FONT, text_font_size="34px", text_font_style="normal",
                           text_color="#333333"), "below")
    return p


# ---- header: colour scale and flow arrow ----
PX_PER_UNIT = 33/0.3
x0 = -0.2 - 450/PX_PER_UNIT
head = figure(width=1322, height=66, output_backend="svg", toolbar_location=None,
              x_range=Range1d(x0, x0+1322/PX_PER_UNIT), y_range=Range1d(66, 0),
              min_border=0, outline_line_color=None)
head.axis.visible = False
head.grid.visible = False
head.quad(left=SCALE_EDGES[:-1], right=SCALE_EDGES[1:], top=[32]*15, bottom=[55.7]*15,
          fill_color=SCALE_COLORS[:15], line_color="#5C6A60", line_width=1)
head.text(SCALE_LABEL_VALUES, [21]*len(SCALE_LABELS), text=SCALE_LABELS, text_font=value(FONT),
          text_font_size="21px", text_color="#444444", text_align="center", text_baseline="middle")
head.add_layout(Label(x=93, y=33, x_units="screen", y_units="data", text="Water  flow", text_font=FONT,
                      text_font_size="30px", text_color="#333333", text_baseline="middle"))
head.add_layout(Arrow(x_start=x0+93/PX_PER_UNIT, x_end=x0+305/PX_PER_UNIT, y_start=52, y_end=52,
                      line_color="#222222", line_width=2,
                      end=NormalHead(size=17, fill_color="#111111", line_color="#111111")))

rows_layout = [head]
for r in range(4):
    rows_layout.append(row(*[draw_panel(r, c) for c in range(3)], spacing=0))
page = column(*rows_layout, spacing=0)
open("out.html", "w").write(file_html(page, INLINE))
